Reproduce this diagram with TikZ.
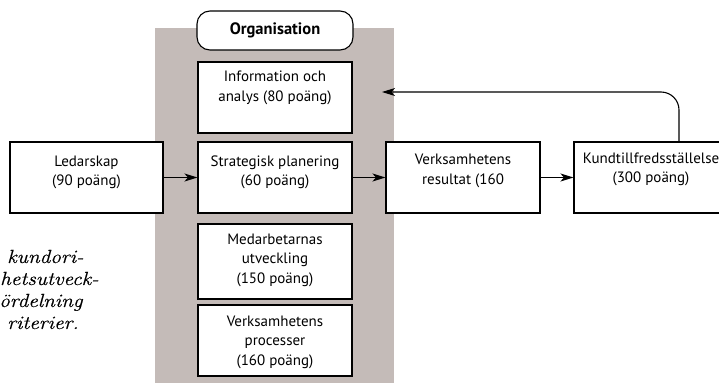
\documentclass[tikz,border=0pt]{standalone}
\usepackage{fontspec}
\setmainfont{PT Sans}
\newfontfamily\paraitalic[FakeStretch=1.12,FakeBold=0.4]{Latin Modern Roman}
\usetikzlibrary{arrows.meta}
\definecolor{orgfill}{RGB}{196,187,184}
\begin{document}
\begin{tikzpicture}[x=1pt,y=-1pt,
  box/.style={draw=black, line width=1.1pt, fill=white, minimum width=154pt, inner sep=0pt},
  lbl/.style={align=center, font=\fontsize{15}{19.5}\selectfont, inner sep=0pt},
  arr/.style={line width=1.1pt, -{Stealth[length=13pt,width=8pt,inset=3.5pt]}},
  para/.style={anchor=base west, inner sep=0pt, font=\paraitalic\itshape\fontsize{19}{22}\selectfont}]
\useasboundingbox (0,0) rectangle (719,383);

% shaded organisation column
\fill[orgfill] (155,28) rectangle (394,383);
\node[box, rounded corners=13pt, minimum width=156pt, minimum height=39pt,
      font=\bfseries\fontsize{16.5}{18}\selectfont] (org) at (275,30.5) {Organisation};

% boxes inside the column
\node[box, minimum height=71pt] (info) at (275,97.5) {};
\node[lbl, yshift=9.5pt] (infot) at (info) {Information och\\analys (80 poäng)};
\node[box, minimum height=71pt] (str) at (275,177.5) {};
\node[lbl, yshift=5pt] (strt) at (str) {Strategisk planering\\(60 poäng)};
\node[box, minimum height=75pt] (med) at (275,261.5) {};
\node[lbl, yshift=1.5pt] (medt) at (med) {Medarbetarnas\\utveckling\\(150 poäng)};
\node[box, minimum height=71pt] (proc) at (275,340.5) {};
\node[lbl, yshift=-1.5pt] (proct) at (proc) {Verksamhetens\\processer\\(160 poäng)};

% boxes of the main row
\node[box, minimum width=153pt, minimum height=71pt] (led) at (86.5,177.5) {};
\node[lbl, yshift=5pt] (ledt) at (led) {Ledarskap\\(90 poäng)};
\node[box, minimum height=71pt] (res) at (463,177.5) {};
\node[lbl, yshift=6.5pt] (rest) at (res) {Verksamhetens\\resultat (160};
\node[box, minimum height=71pt] (kund) at (651,177.5) {};
\node[lbl, yshift=8pt] (kundt) at (kund) {Kundtillfredsställelse\\(300 poäng)};

% connectors
\draw[arr] (led) -- (str);
\draw[arr] (str) -- (res);
\draw[arr] (res) -- (kund);
\coordinate (fbend) at (382,92);
\draw[arr, rounded corners=18pt] ([xshift=28pt]kund.north) |- (fbend);

% running text at the left margin
\node[para] (p1) at (7,263) {kundori-};
\node[para] (p2) at (0,285) {hetsutveck-};
\node[para] (p3) at (-1,307) {ördelning};
\node[para] (p4) at (7,329) {riterier.};
\end{tikzpicture}
\end{document}
